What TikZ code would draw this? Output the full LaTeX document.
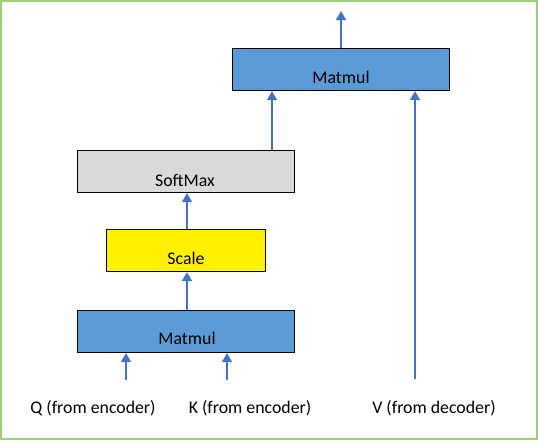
\documentclass[tikz,border=0pt]{standalone}
\usepackage{fontspec}
\setmainfont{Carlito}
\usetikzlibrary{arrows.meta}
\definecolor{bblue}{HTML}{5B9BD5}
\definecolor{agray}{HTML}{D9D9D9}
\definecolor{ablue}{HTML}{4472C4}
\definecolor{bgreen}{HTML}{9BD07A}
\begin{document}
\begin{tikzpicture}[x=1pt,y=-1pt,
  blk/.style={draw=black,line width=1.1pt,minimum height=42pt,inner sep=0pt,anchor=north west},
  lbl/.style={font=\fontsize{17.8}{20}\selectfont,text=black,inner sep=0pt},
  arr/.style={draw=ablue,line width=1.8pt,-{Triangle[width=10pt,length=9pt]}}]
\useasboundingbox (0,0) rectangle (538,440);
\draw[bgreen,line width=2pt] (1,1) rectangle (537,439);
% boxes
\node[blk,fill=bblue,minimum width=217pt] (mm2) at (232,48) {};
\node[blk,fill=agray,minimum width=217pt] (sm) at (77,150) {};
\node[blk,fill=yellow,minimum width=159pt] (sc) at (106,229) {};
\node[blk,fill=bblue,minimum width=217pt] (mm1) at (77,310) {};
% labels
\node[lbl] (tmm2) at (341,77) {Matmul};
\node[lbl] (tsm) at (185,180) {SoftMax};
\node[lbl] (tsc) at (186,258) {Scale};
\node[lbl] (tmm1) at (187,338) {Matmul};
\node[lbl] (tq) at (93,408) {Q (from encoder)};
\node[lbl] (tk) at (250,408) {K (from encoder)};
\node[lbl] (tv) at (434,408) {V (from decoder)};
% free ends
\coordinate (out) at (341,11);
\coordinate (qin) at (126,380);
\coordinate (kin) at (227,380);
\coordinate (vin) at (415,379);
% connectors
\draw[arr] (mm2.north -| out) -- (out);
\draw[arr] (sm.north -| 272,0) -- (mm2.south -| 272,0);
\draw[arr] (vin) -- (mm2.south -| vin);
\draw[arr] (sc.north -| 187,0) -- (sm.south -| 187,0);
\draw[arr] (mm1.north -| 187,0) -- (sc.south -| 187,0);
\draw[arr] (qin) -- (mm1.south -| qin);
\draw[arr] (kin) -- (mm1.south -| kin);
\end{tikzpicture}
\end{document}
